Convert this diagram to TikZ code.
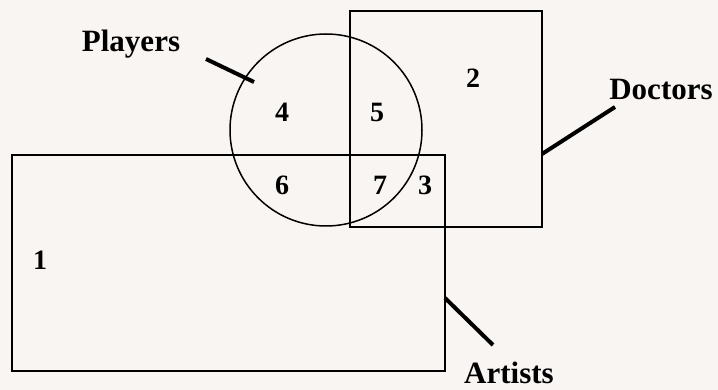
\documentclass[tikz,border=0pt]{standalone}
\usepackage{fontspec}
\setmainfont{Liberation Serif}
\definecolor{paper}{RGB}{249,245,242}
\tikzset{
  setline/.style={line width=1.5pt},
  tick/.style={line width=4pt},
  setname/.style={font=\fontsize{31}{31}\selectfont\bfseries, anchor=base, inner sep=0pt},
  region/.style={font=\fontsize{28}{28}\selectfont\bfseries, anchor=base, inner sep=0pt}
}
\begin{document}
\begin{tikzpicture}[x=1pt,y=-1pt]
  \fill[paper] (0,0) rectangle (718,390);
  \useasboundingbox (0,0) rectangle (718,390);

  % The three sets
  \draw[setline] (350,11) rectangle (542,227);   % doctors
  \draw[setline] (12,155) rectangle (445,371);   % artists
  \draw[setline] (326,130) circle[radius=96pt];  % players

  % Set names
  \node[setname] (players) at (131,52) {Players};
  \node[setname] (doctors) at (661,100) {Doctors};
  \node[setname] (artists) at (509,383) {Artists};

  % Pointer ticks
  \coordinate (pA) at (206,59);  \coordinate (pB) at (254,82);
  \coordinate (dA) at (615,107); \coordinate (dB) at (542,154);
  \coordinate (aA) at (493,345); \coordinate (aB) at (445,298);
  \draw[tick] (pA) -- (pB);
  \draw[tick] (dA) -- (dB);
  \draw[tick] (aA) -- (aB);

  % Region numbers
  \node[region] (r1) at (40,270) {1};
  \node[region] (r2) at (473,88) {2};
  \node[region] (r3) at (425,195) {3};
  \node[region] (r4) at (282,122) {4};
  \node[region] (r5) at (377,122) {5};
  \node[region] (r6) at (282,195) {6};
  \node[region] (r7) at (380,195) {7};
\end{tikzpicture}
\end{document}
